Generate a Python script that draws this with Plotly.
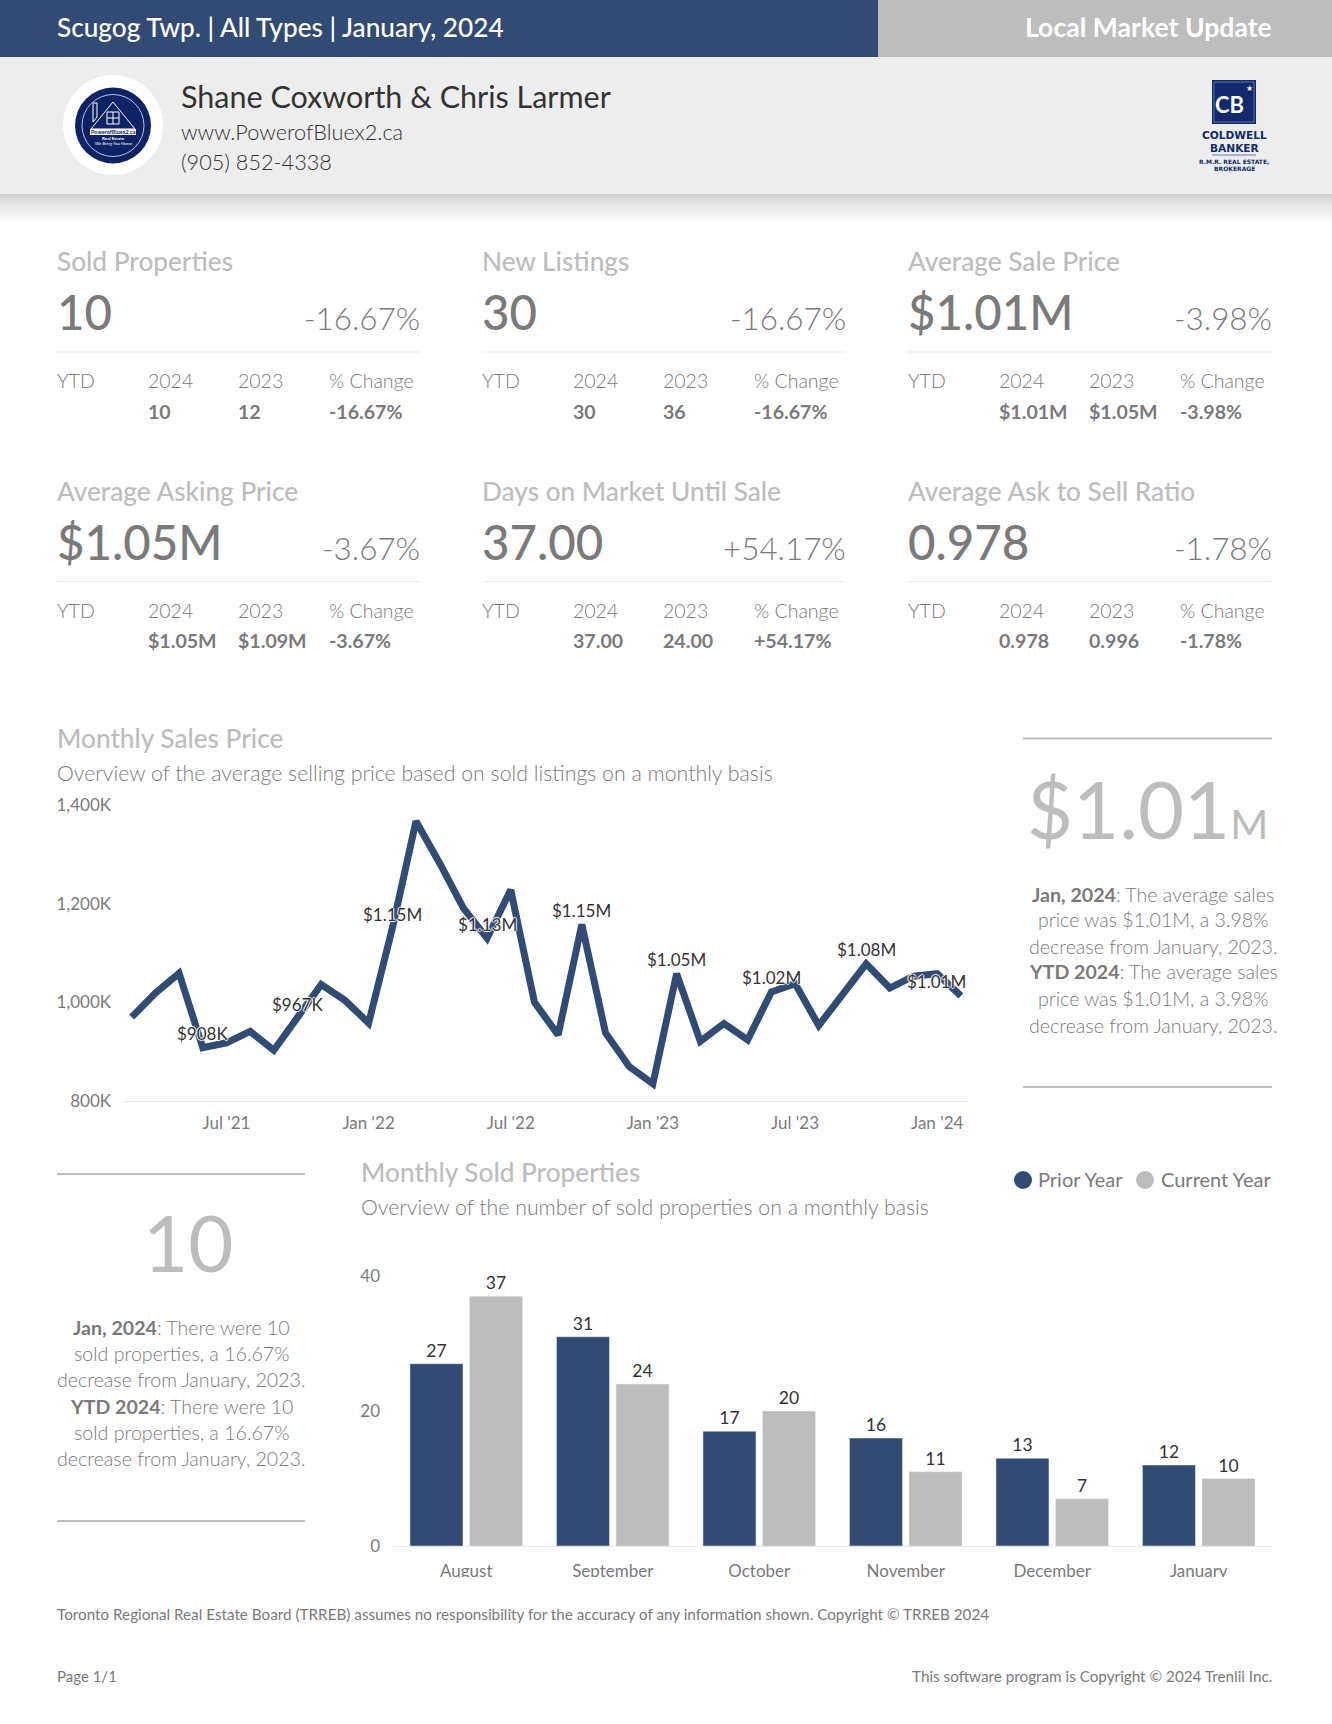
import plotly.graph_objects as go

W, H = 1332, 1724
NAVY, GREY, TXT, DARK = "#324B75", "#BDBDBD", "#7A7A7A", "#333333"
FONT = "Lato"

# ---------- data ----------
months = ["Mar '21","Apr '21","May '21","Jun '21","Jul '21","Aug '21","Sep '21","Oct '21","Nov '21","Dec '21",
          "Jan '22","Feb '22","Mar '22","Apr '22","May '22","Jun '22","Jul '22","Aug '22","Sep '22","Oct '22",
          "Nov '22","Dec '22","Jan '23","Feb '23","Mar '23","Apr '23","May '23","Jun '23","Jul '23","Aug '23",
          "Sep '23","Oct '23","Nov '23","Dec '23","Jan '24","Feb '24"]
avg_price_k = [970,1019,1059,908,918,941,903,967,1036,1004,958,1150,1367,1282,1191,1130,1228,1000,934,1158,
               938,870,835,1058,921,957,924,1021,1038,953,1015,1078,1029,1053,1058,1013]
price_tick_months = ["Jul '21","Jan '22","Jul '22","Jan '23","Jul '23","Jan '24"]
price_y_ticks = [800,1000,1200,1400]
price_y_labels = ["800K","1,000K","1,200K","1,400K"]
price_label_months = ["Jun '21","Oct '21","Feb '22","Jun '22","Oct '22","Feb '23","Jun '23","Oct '23","Feb '24"]
price_label_texts = ["$908K","$967K","$1.15M","$1.13M","$1.15M","$1.05M","$1.02M","$1.08M","$1.01M"]

bar_months = ["August","September","October","November","December","January"]
prior_year = [27,31,17,16,13,12]
current_year = [37,24,20,11,7,10]

kpi_titles = ["Sold Properties","New Listings","Average Sale Price",
              "Average Asking Price","Days on Market Until Sale","Average Ask to Sell Ratio"]
kpi_values = ["10","30","$1.01M","$1.05M","37.00","0.978"]
kpi_changes = ["-16.67%","-16.67%","-3.98%","-3.67%","+54.17%","-1.78%"]
kpi_2024 = ["10","30","$1.01M","$1.05M","37.00","0.978"]
kpi_2023 = ["12","36","$1.05M","$1.09M","24.00","0.996"]

price_notes = ["<b>Jan, 2024</b>: The average sales","price was $1.01M, a 3.98%","decrease from January, 2023.",
               "<b>YTD 2024</b>: The average sales","price was $1.01M, a 3.98%","decrease from January, 2023."]
sold_notes = ["<b>Jan, 2024</b>: There were 10","sold properties, a 16.67%","decrease from January, 2023.",
              "<b>YTD 2024</b>: There were 10","sold properties, a 16.67%","decrease from January, 2023."]

# ---------- helpers ----------
px = lambda v: v / W
py = lambda v: 1 - v / H
shapes, annots = [], []

def rect(x0, y0, x1, y1, fill, layer="below"):
    shapes.append(dict(type="rect", xref="paper", yref="paper", x0=px(x0), x1=px(x1), y0=py(y0), y1=py(y1),
                       fillcolor=fill, line_width=0, layer=layer))

def line(x0, y0, x1, y1, color, width=1):
    shapes.append(dict(type="line", xref="paper", yref="paper", x0=px(x0), x1=px(x1), y0=py(y0), y1=py(y1),
                       line=dict(color=color, width=width), layer="below"))

def circle(cx, cy, r, fill="rgba(0,0,0,0)", lc=None, lw=0):
    shapes.append(dict(type="circle", xref="paper", yref="paper", x0=px(cx-r), x1=px(cx+r), y0=py(cy-r), y1=py(cy+r),
                       fillcolor=fill, line=dict(color=lc or fill, width=lw), layer="below"))

def poly(pts, fill="rgba(0,0,0,0)", lc="white", lw=1):
    p = "M " + " L ".join(f"{px(x):.5f},{py(y):.5f}" for x, y in pts) + " Z"
    shapes.append(dict(type="path", xref="paper", yref="paper", path=p, fillcolor=fill,
                       line=dict(color=lc, width=lw), layer="below"))

def text(x, y, s, size, color=TXT, anchor="left", weight=400, style="normal", family=FONT):
    annots.append(dict(xref="paper", yref="paper", x=px(x), y=py(y), text=s, showarrow=False,
                       xanchor=anchor, yanchor="middle", align=anchor, borderpad=0, borderwidth=0,
                       font=dict(family=family, size=size, color=color, weight=weight, style=style)))

# ---------- header ----------
rect(0, 0, 878, 57, NAVY)
rect(878, 0, W, 57, GREY)
rect(0, 57, W, 194, "#EDEDED")
for i in range(30):
    g = int(208 + (255 - 208) * (i / 29) ** 0.8)
    rect(0, 194 + i, W, 195 + i, f"rgb({g},{g},{g})")
text(57, 27, "Scugog Twp. | All Types | January, 2024", 26.2, "white", weight=500)
text(1272, 27, "Local Market Update", 26.6, "white", "right", 700)
text(181, 96, "Shane Coxworth &amp; Chris Larmer", 30.5, DARK)
text(181, 132, "www.PowerofBluex2.ca", 21.7, DARK, weight=300)
text(181, 162, "(905) 852-4338", 21.7, DARK, weight=300)

# agent logo
LOGO = "#0D2366"
circle(113, 125, 50, "white")
circle(113, 125.5, 38, LOGO)
circle(113, 125.5, 31, lc="#B9C2DC", lw=1)
poly([(113, 102), (91, 129), (135, 129)])
poly([(93, 122), (93, 103), (97, 103), (97, 117)])
poly([(107, 112), (119, 112), (119, 124), (107, 124)])
line(113, 112, 113, 124, "white"); line(107, 118, 119, 118, "white")
rect(90, 129, 136, 135, "white")
text(113, 132, "<b>PowerofBluex2.ca</b>", 5.5, LOGO, "center")
text(113, 138, "<b>Real Estate</b>", 4.5, "white", "center")
text(113, 143, "We Bring You Home", 4.5, "white", "center", style="italic")

# brokerage logo
CB = "#12296B"
rect(1212, 80, 1256, 124, CB)
poly([(1214, 82), (1254, 82), (1254, 122), (1214, 122)], lc="#8793B8", lw=0.7)
text(1229, 104, "<b>CB</b>", 22, "white", "center")
text(1249, 88, "★", 8, "white", "center")
text(1234, 134.5, "COLDWELL", 10.6, CB, "center", 700, family="DejaVu Sans")
text(1234, 147.5, "BANKER", 10.6, CB, "center", 700, family="DejaVu Sans")
line(1212, 155, 1256, 155, "#6C7AA5")
text(1234, 161.5, "R.M.R. REAL ESTATE,", 6, CB, "center", 700, family="DejaVu Sans")
text(1234, 169, "BROKERAGE", 6, CB, "center", 700, family="DejaVu Sans")

# ---------- KPI blocks ----------
col_x = [57, 482, 908]
row_y = [262, 491.5]
for i in range(6):
    x0, dy = col_x[i % 3], row_y[i // 3]
    x1 = x0 + 363.5
    text(x0, dy - 1, kpi_titles[i], 26.2, GREY, weight=500)
    text(x0, dy + 50, kpi_values[i], 47.4, TXT, weight=500)
    text(x1, dy + 56, kpi_changes[i], 31.4, TXT, "right", 300)
    line(x0, dy + 90, x1, dy + 90, "#E9E9E9")
    text(x0, dy + 119, "YTD", 19.5, TXT, weight=300)
    text(x0 + 90.5, dy + 119, "2024", 19.5, TXT, weight=300)
    text(x0 + 181, dy + 119, "2023", 19.5, TXT, weight=300)
    text(x0 + 272, dy + 119, "% Change", 19.5, TXT, weight=300)
    text(x0 + 90.5, dy + 149, kpi_2024[i], 19.6, TXT, weight=700)
    text(x0 + 181, dy + 149, kpi_2023[i], 19.6, TXT, weight=700)
    text(x0 + 272, dy + 149, kpi_changes[i], 19.6, TXT, weight=700)

# ---------- section text ----------
text(57, 738, "Monthly Sales Price", 26.2, GREY, weight=500)
text(57, 773, "Overview of the average selling price based on sold listings on a monthly basis", 21.3, TXT, weight=300)
line(1023, 738.5, 1272, 738.5, GREY, 2)
text(1147, 808, "$1.01<span style='font-size:41px'>M</span>", 79.5, GREY, "center", 400)
for y, s in zip([894, 920, 946, 972, 999, 1025], price_notes):
    text(1153, y, s, 19.6, TXT, "center", 300)
line(1023, 1087, 1272, 1087, GREY, 2)

line(57, 1174, 305, 1174, GREY, 2)
text(188, 1242, "10", 78, GREY, "center")
for y, s in zip([1327, 1353, 1379, 1406, 1432, 1458], sold_notes):
    text(181, y, s, 19.6, TXT, "center", 300)
line(57, 1521, 305, 1521, GREY, 2)

text(361, 1172, "Monthly Sold Properties", 26.2, GREY, weight=500)
text(361, 1207, "Overview of the number of sold properties on a monthly basis", 21.3, TXT, weight=300)
circle(1023, 1180, 9, NAVY)
text(1038, 1179, "Prior Year", 20, TXT, weight=400)
circle(1145, 1180, 9, GREY)
text(1161, 1179, "Current Year", 20, TXT, weight=400)

text(57, 1614, "Toronto Regional Real Estate Board (TRREB) assumes no responsibility for the accuracy of any information shown. Copyright © TRREB 2024", 15.25, TXT)
text(57, 1676, "Page 1/1", 15, TXT)
text(1272, 1676, "This software program is Copyright © 2024 Trenlii Inc.", 15.25, TXT, "right")

# clip the month labels as in the page
rect(340, 1577, W, 1600, "white", layer="above")

# ---------- figure ----------
fig = go.Figure()
fig.add_trace(go.Scatter(x=months, y=avg_price_k, mode="lines", xaxis="x", yaxis="y", showlegend=False,
                         line=dict(color=NAVY, width=7, shape="linear"), cliponaxis=False, hoverinfo="skip"))
fig.add_trace(go.Bar(x=bar_months, y=prior_year, xaxis="x2", yaxis="y2", name="Prior Year", marker_color=NAVY,
                     text=prior_year, textposition="outside", cliponaxis=False, showlegend=False,
                     textfont=dict(family=FONT, size=17.5, color=DARK), hoverinfo="skip"))
fig.add_trace(go.Bar(x=bar_months, y=current_year, xaxis="x2", yaxis="y2", name="Current Year", marker_color=GREY,
                     text=current_year, textposition="outside", cliponaxis=False, showlegend=False,
                     textfont=dict(family=FONT, size=17.5, color=DARK), hoverinfo="skip"))

# price data labels
HALO = "1px 0 1px white, -1px 0 1px white, 0 1px 1px white, 0 -1px 1px white"
for m, s in zip(price_label_months, price_label_texts):
    annots.append(dict(xref="x", yref="y", x=months.index(m), y=avg_price_k[months.index(m)], text=s, showarrow=False,
                       yanchor="middle", xanchor="center", yshift=14, xshift=-24 if m == months[-1] else 0,
                       font=dict(family=FONT, size=17, color=DARK, shadow=HALO)))

fig.update_layout(
    width=W, height=H, margin=dict(l=0, r=0, t=0, b=0, pad=0, autoexpand=False), autosize=False,
    paper_bgcolor="white", plot_bgcolor="rgba(0,0,0,0)", font=dict(family=FONT, color=TXT),
    shapes=shapes, annotations=annots,
    barmode="group", bargap=0.187, bargroupgap=0.11,
    xaxis=dict(domain=[px(124), px(968)], anchor="y", type="category", categoryorder="array", categoryarray=months,
               range=[-0.325, 35.3], tickmode="array", tickvals=price_tick_months, ticktext=price_tick_months,
               showgrid=False, zeroline=False, showline=True, linecolor="#E6E6E6", linewidth=1, ticks="",
               ticklabelstandoff=7, tickangle=0, automargin=False, tickfont=dict(family=FONT, size=17, color=TXT)),
    yaxis=dict(domain=[py(1101), py(805)], anchor="x", range=[800, 1400], tickmode="array",
               tickvals=price_y_ticks, ticktext=price_y_labels, showgrid=False, zeroline=False, showline=False,
               ticks="", ticklabelstandoff=12, automargin=False, tickfont=dict(family=FONT, size=17, color=TXT)),
    xaxis2=dict(domain=[px(393), px(1272)], anchor="y2", type="category", categoryorder="array",
                categoryarray=bar_months, showgrid=False, zeroline=False, showline=True, linecolor="#E6E6E6",
                linewidth=1, ticks="", ticklabelstandoff=10, tickangle=0, automargin=False,
                tickfont=dict(family=FONT, size=17, color=TXT)),
    yaxis2=dict(domain=[py(1546), py(1276)], anchor="x2", range=[0, 40], tickmode="array", tickvals=[0, 20, 40],
                showgrid=False, zeroline=False, showline=False, ticks="", ticklabelstandoff=12, automargin=False,
                tickfont=dict(family=FONT, size=17, color=TXT)),
)
fig.write_html("out.html", config=dict(displayModeBar=False),
               post_script="document.body.style.margin='0';document.body.style.overflow='hidden';")
